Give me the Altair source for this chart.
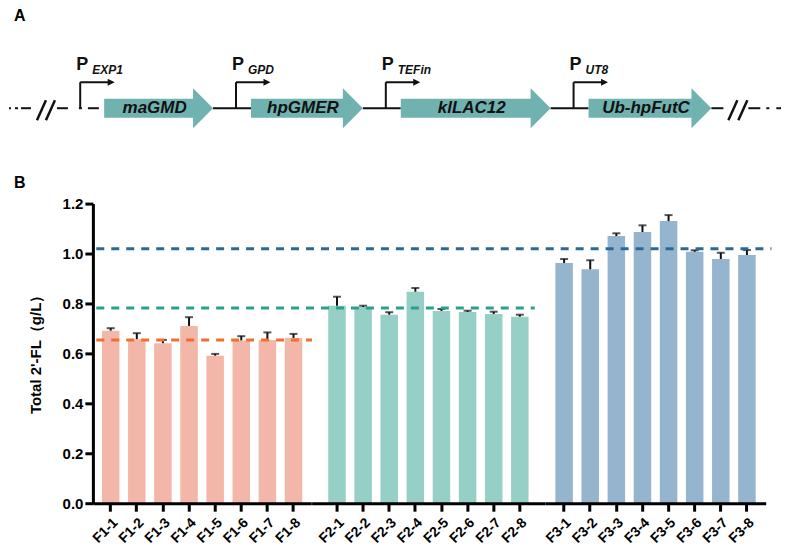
import altair as alt
import pandas as pd

# ---------------- data ----------------
f1_labels = ["F1-1", "F1-2", "F1-3", "F1-4", "F1-5", "F1-6", "F1-7", "F1-8"]
f2_labels = ["F2-1", "F2-2", "F2-3", "F2-4", "F2-5", "F2-6", "F2-7", "F2-8"]
f3_labels = ["F3-1", "F3-2", "F3-3", "F3-4", "F3-5", "F3-6", "F3-7", "F3-8"]

f1_values = [0.691, 0.657, 0.641, 0.710, 0.591, 0.652, 0.654, 0.662]
f1_errors = [0.010, 0.024, 0.013, 0.035, 0.007, 0.017, 0.030, 0.016]
f2_values = [0.791, 0.786, 0.755, 0.847, 0.770, 0.766, 0.758, 0.747]
f2_errors = [0.036, 0.005, 0.010, 0.015, 0.008, 0.005, 0.009, 0.008]
f3_values = [0.962, 0.937, 1.070, 1.086, 1.130, 1.007, 0.978, 0.994]
f3_errors = [0.016, 0.036, 0.011, 0.027, 0.024, 0.006, 0.025, 0.020]

group_means = [0.654, 0.782, 1.019]
y_ticks = [0.0, 0.2, 0.4, 0.6, 0.8, 1.0, 1.2]
y_title = "Total 2'-FL（g/L）"

genes = ["maGMD", "hpGMER", "klLAC12", "Ub-hpFutC"]
gene_lengths = [109, 112, 150, 123]
promoters = ["EXP1", "GPD", "TEFin", "UT8"]

# ---------------- style ----------------
FONT = "Liberation Sans"
bar_colors = ["#F2B7A8", "#96CFC6", "#94B5CD"]
mean_colors = ["#F06E32", "#2CA08C", "#2C6896"]
gene_color = "#70B2B0"
ink = "#111111"

STEP = 26.15
PAD_INNER = 0.33
panel_widths = [218.7, 233.9, 220.7]
pad_outer = [(w / STEP - 8 + PAD_INNER) / 2 for w in panel_widths]
PLOT_H = 300
PLOT_LEFT = 93  # page x of the y axis

# ---------------- panel B ----------------
yscale = alt.Scale(domain=[0, 1.2], nice=False, zero=True)


def panel(k, labels, values, errors):
    df = pd.DataFrame({"sample": labels, "value": values, "err": errors})
    df["hi"] = df["value"] + df["err"]
    xenc = alt.X(
        "sample:N", sort=labels, title=None,
        scale=alt.Scale(paddingInner=PAD_INNER, paddingOuter=pad_outer[k]),
        axis=alt.Axis(labelAngle=-45, labelAlign="right", labelBaseline="top",
                      labelFont=FONT, labelFontSize=14, labelFontWeight="bold",
                      labelColor="black", labelPadding=4, labelOverlap=False,
                      tickSize=8, tickWidth=3, tickColor="black",
                      domainWidth=3, domainColor="black", zindex=1, grid=False))
    if k == 0:
        yaxis = alt.Axis(values=y_ticks, format=".1f", title=y_title,
                         labelFont=FONT, labelFontSize=15, labelFontWeight="bold",
                         labelColor="black", labelPadding=2,
                         tickSize=8, tickWidth=3, tickColor="black",
                         domainWidth=3, domainColor="black", zindex=1, grid=False,
                         titleFont=FONT, titleFontSize=15, titleFontWeight="bold",
                         titleColor="black", titleAngle=270, titleAlign="center",
                         titleBaseline="alphabetic", titleX=-52, titleY=PLOT_H / 2 - 3)
    else:
        yaxis = None
    base = alt.Chart(df)
    bars = base.mark_bar(color=bar_colors[k]).encode(
        x=xenc, y=alt.Y("value:Q", scale=yscale, axis=yaxis, title=y_title))
    err = base.mark_rule(color=ink, strokeWidth=2).encode(
        x=xenc, y=alt.Y("value:Q", scale=yscale, axis=yaxis, title=y_title), y2="hi:Q")
    cap = base.mark_tick(color=ink, thickness=2, size=8).encode(
        x=xenc, y=alt.Y("hi:Q", scale=yscale, axis=yaxis, title=y_title))
    return [bars, err, cap]


p1_layers = panel(0, f1_labels, f1_values, f1_errors)
p2_layers = panel(1, f2_labels, f2_values, f2_errors)
p3_layers = panel(2, f3_labels, f3_values, f3_errors)

# label "B"
b_label = alt.Chart(pd.DataFrame({"t": ["B"]})).mark_text(
    font=FONT, fontSize=16, fontWeight="bold", align="left", baseline="alphabetic",
    color="black").encode(text="t:N", x=alt.value(14 - PLOT_LEFT), y=alt.value(-16))

# mean (dashed) lines, drawn in the last panel so they lie on top of every bar
p3_left = PLOT_LEFT + panel_widths[0] + panel_widths[1]
line_start = 96
line_ends = [312, 535, 772]
mean_layers = []
for k in range(3):
    ldf = pd.DataFrame({"mean": [group_means[k]]})
    mean_layers.append(
        alt.Chart(ldf).mark_rule(color=mean_colors[k], strokeWidth=3, strokeDash=[8, 7]).encode(
            x=alt.value(line_start - p3_left), x2=alt.value(line_ends[k] - p3_left),
            y=alt.Y("mean:Q", scale=yscale, axis=None)))

p1 = alt.layer(*p1_layers, b_label).properties(width=panel_widths[0], height=PLOT_H)
p2 = alt.layer(*p2_layers).properties(width=panel_widths[1], height=PLOT_H)
p3 = alt.layer(*p3_layers, *mean_layers).properties(width=panel_widths[2], height=PLOT_H)

bottom = alt.hconcat(p1, p2, p3, spacing=0, bounds="flush")

# ---------------- panel A: construct diagram ----------------
starts, tips, proms = [], [], []
for i, L in enumerate(gene_lengths):
    if i == 0:
        s = 104.3
        p = s - 24
    else:
        p = tips[-1] + 23
        s = p + 15
    proms.append(p)
    starts.append(s)
    tips.append(s + L)

HEAD = 20
xs = alt.Scale(domain=[PLOT_LEFT, 782], nice=False, zero=False)
ys = alt.Scale(domain=[-42, 98], nice=False, zero=False)
TOP_W = 782 - PLOT_LEFT
TOP_H = 140


def X(f):
    return alt.X(f, scale=xs, axis=None)


def Y(f):
    return alt.Y(f, scale=ys, axis=None)


t_last = tips[-1]
segs = [(9, 11), (15, 18), (21, 31), (57, 68), (79, 82), (88, 99)]
segs += [(tips[i], starts[i + 1]) for i in range(len(genes) - 1)]
segs += [(t_last, t_last + 12), (t_last + 37, t_last + 49),
         (t_last + 55, t_last + 58), (t_last + 65, 782)]
seg_df = pd.DataFrame({"x": [a for a, b in segs], "x2": [b for a, b in segs], "y": 0})

slashes = [(37, 46), (46, 55), (t_last + 17, t_last + 26), (t_last + 27, t_last + 36)]
slash_df = pd.DataFrame({"x": [a for a, b in slashes], "x2": [b for a, b in slashes],
                         "y": -12, "y2": 8})

body_df = pd.DataFrame({"x": starts, "x2": [t - HEAD + 0.5 for t in tips], "y": -9.5, "y2": 9.5})
head_df = pd.DataFrame({"x": [t - HEAD for t in tips], "y": 0})
gtext_df = pd.DataFrame({"x": [(s + t) / 2 - 4 for s, t in zip(starts, tips)], "y": 0,
                         "t": genes})
pv_df = pd.DataFrame({"x": proms, "y": 0, "y2": 26})
ph_df = pd.DataFrame({"x": proms, "x2": [p + 31 for p in proms], "y": 26})
phead_df = pd.DataFrame({"x": [p + 31 for p in proms], "y": 26})
P_df = pd.DataFrame({"x": [p - 4 for p in proms], "y": 38, "t": "P"})
sub_df = pd.DataFrame({"x": [p + 12 for p in proms], "y": 34, "t": promoters})

top_layers = [
    alt.Chart(seg_df).mark_rule(color=ink, strokeWidth=2).encode(x=X("x:Q"), x2="x2:Q", y=Y("y:Q")),
    alt.Chart(slash_df).mark_rule(color=ink, strokeWidth=2.5).encode(
        x=X("x:Q"), x2="x2:Q", y=Y("y:Q"), y2="y2:Q"),
    alt.Chart(pv_df).mark_rule(color=ink, strokeWidth=2).encode(x=X("x:Q"), y=Y("y:Q"), y2="y2:Q"),
    alt.Chart(ph_df).mark_rule(color=ink, strokeWidth=2).encode(x=X("x:Q"), x2="x2:Q", y=Y("y:Q")),
    alt.Chart(phead_df).mark_point(shape="M-1,-1L1,0L-1,1Z", size=49, filled=True,
                                   color=ink, opacity=1, strokeWidth=0).encode(x=X("x:Q"), y=Y("y:Q")),
    alt.Chart(body_df).mark_rect(color=gene_color).encode(
        x=X("x:Q"), x2="x2:Q", y=Y("y:Q"), y2="y2:Q"),
    alt.Chart(head_df).mark_point(shape="M0,-1L1,0L0,1Z", size=(2 * HEAD) ** 2, filled=True,
                                  color=gene_color, opacity=1, strokeWidth=0).encode(
        x=X("x:Q"), y=Y("y:Q")),
    alt.Chart(gtext_df).mark_text(font=FONT, fontSize=17, fontWeight="bold", fontStyle="italic",
                                  color=ink, align="center", baseline="middle").encode(
        x=X("x:Q"), y=Y("y:Q"), text="t:N"),
    alt.Chart(P_df).mark_text(font=FONT, fontSize=18, fontWeight="bold", color=ink,
                              align="left", baseline="alphabetic").encode(
        x=X("x:Q"), y=Y("y:Q"), text="t:N"),
    alt.Chart(sub_df).mark_text(font=FONT, fontSize=12, fontWeight="bold", fontStyle="italic",
                                color=ink, align="left", baseline="alphabetic").encode(
        x=X("x:Q"), y=Y("y:Q"), text="t:N"),
    alt.Chart(pd.DataFrame({"t": ["A"]})).mark_text(
        font=FONT, fontSize=16, fontWeight="bold", align="left", baseline="alphabetic",
        color="black").encode(text="t:N", x=alt.value(14 - PLOT_LEFT), y=alt.value(11)),
]
top = alt.layer(*top_layers).properties(width=TOP_W, height=TOP_H)

chart = alt.vconcat(top, bottom, spacing=53.5, bounds="flush").properties(
    padding=0).configure_view(stroke=None).configure_axis(grid=False)

chart.save("out.html", embed_options={"renderer": "svg", "actions": False})
